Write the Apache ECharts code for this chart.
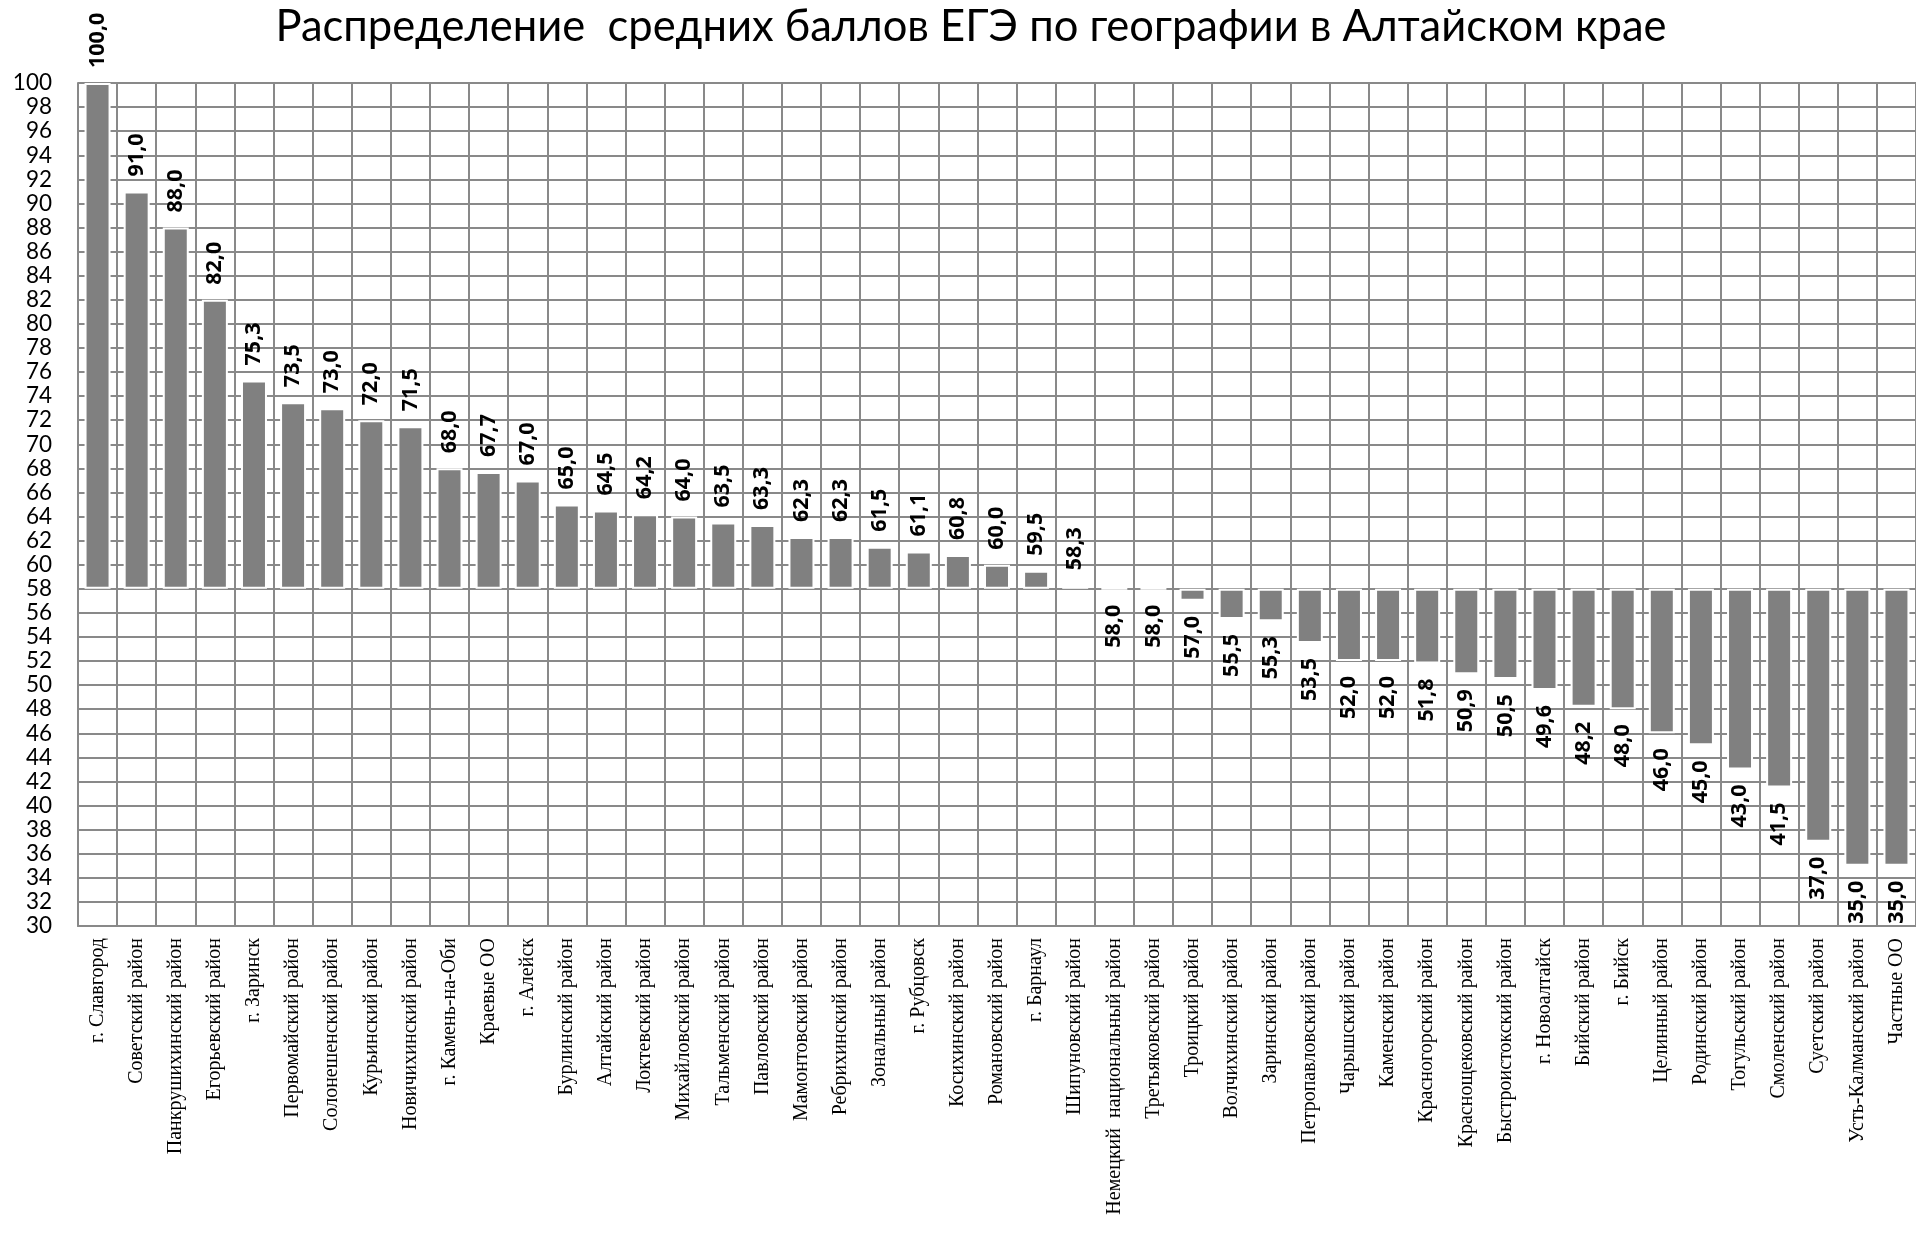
<!DOCTYPE html>
<html>
<head>
<meta charset="utf-8">
<script src="https://cdn.jsdelivr.net/npm/echarts@6/dist/echarts.min.js"></script>
<style>html,body{margin:0;padding:0;background:#fff}#c{width:1916px;height:1233px}</style>
</head>
<body>
<div id="c"></div>
<script>
const titleText = 'Распределение  средних баллов ЕГЭ по географии в Алтайском крае';
const categories = ['г. Славгород','Советский район','Панкрушихинский район','Егорьевский район','г. Заринск','Первомайский район','Солонешенский район','Курьинский район','Новичихинский район','г. Камень-на-Оби','Краевые ОО','г. Алейск','Бурлинский район','Алтайский район','Локтевский район','Михайловский район','Тальменский район','Павловский район','Мамонтовский район','Ребрихинский район','Зональный район','г. Рубцовск','Косихинский район','Романовский район','г. Барнаул','Шипуновский район','Немецкий  национальный район','Третьяковский район','Троицкий район','Волчихинский район','Заринский район','Петропавловский район','Чарышский район','Каменский район','Красногорский район','Краснощековский район','Быстроистокский район','г. Новоалтайск','Бийский район','г. Бийск','Целинный район','Родинский район','Тогульский район','Смоленский район','Суетский район','Усть-Калманский район','Частные ОО'];
const scores = [100.0,91.0,88.0,82.0,75.3,73.5,73.0,72.0,71.5,68.0,67.7,67.0,65.0,64.5,64.2,64.0,63.5,63.3,62.3,62.3,61.5,61.1,60.8,60.0,59.5,58.3,58.0,58.0,57.0,55.5,55.3,53.5,52.0,52.0,51.8,50.9,50.5,49.6,48.2,48.0,46.0,45.0,43.0,41.5,37.0,35.0,35.0];
const baseline = 58;
const axisMin = 30, axisMax = 100, axisStep = 2;

const fmt = v => (Math.round(v * 10) / 10).toFixed(1).replace('.', ',');
const data = scores.map(s => {
  const up = s > baseline;
  return {
    value: s - baseline,
    label: { position: up ? 'top' : 'bottom', align: up ? 'left' : 'right' }
  };
});

const gridColor = '#898989';
const chart = echarts.init(document.getElementById('c'), null, { renderer: 'canvas' });
chart.setOption({
  animation: false,
  backgroundColor: '#ffffff',
  title: {
    text: titleText, left: 966, top: 0, textAlign: 'center',
    textStyle: { fontFamily: 'Lato', fontWeight: 'normal', fontSize: 43.5, color: '#000' }
  },
  grid: { left: 78, right: 0, top: 83, bottom: 307, containLabel: false },
  xAxis: {
    type: 'category', data: categories, boundaryGap: true,
    axisLine: { onZero: false, lineStyle: { color: gridColor, width: 2 } },
    axisTick: { show: false },
    splitLine: { show: true, interval: 0, lineStyle: { color: gridColor, width: 2 } },
    axisLabel: {
      interval: 0, rotate: 90, margin: 12,
      fontFamily: 'Liberation Serif', fontSize: 20, color: '#000'
    }
  },
  yAxis: {
    type: 'value', min: axisMin - baseline, max: axisMax - baseline, interval: axisStep,
    axisLine: { show: true, lineStyle: { color: gridColor, width: 2 } },
    axisTick: { show: false },
    splitLine: { show: true, lineStyle: { color: gridColor, width: 2 } },
    axisLabel: {
      margin: 26, fontFamily: 'Lato', fontSize: 22.5, color: '#000',
      formatter: v => String(Math.round(v + baseline))
    }
  },
  series: [{
    type: 'bar', data: data, barWidth: 26,
    itemStyle: { color: '#808080', borderColor: '#ffffff', borderWidth: 2 },
    label: {
      show: true, rotate: 90, distance: 15, verticalAlign: 'middle',
      fontFamily: 'Open Sans', fontWeight: 'bold', fontSize: 21.5, color: '#000',
      formatter: p => fmt(p.value + baseline)
    }
  }]
});
</script>
</body>
</html>
